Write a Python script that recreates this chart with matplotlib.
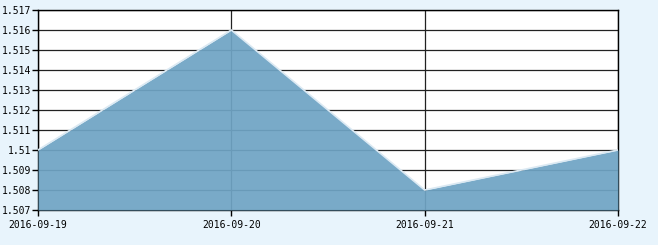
import matplotlib
matplotlib.use("Agg")
import matplotlib.pyplot as plt

# data
dates = ["2016-09-19", "2016-09-20", "2016-09-21", "2016-09-22"]
values = [1.510, 1.516, 1.508, 1.510]
y_ticks = [1.507, 1.508, 1.509, 1.510, 1.511, 1.512, 1.513, 1.514, 1.515, 1.516, 1.517]
y_labels = ["1.507", "1.508", "1.509", "1.51", "1.511", "1.512", "1.513",
            "1.514", "1.515", "1.516", "1.517"]

plt.rcParams["font.family"] = ["DejaVu Sans Mono"]

fig = plt.figure(figsize=(6.58, 2.45), dpi=100, facecolor="#e8f4fc")
ax = fig.add_axes([38 / 658, 35 / 245, 580 / 658, 200 / 245])
ax.set_facecolor("white")

x = list(range(len(dates)))
ax.set_axisbelow(True)
ax.grid(True, color="#222222", linewidth=0.9)
ax.fill_between(x, values, y_ticks[0], color="#6fa4c4", alpha=0.93, linewidth=0, zorder=3)
ax.plot(x, values, color="#dbe9f3", linewidth=1.2, zorder=4)

ax.set_xlim(0, len(dates) - 1)
ax.set_ylim(y_ticks[0], y_ticks[-1])
ax.set_xticks(x)
ax.set_xticklabels(dates)
ax.set_yticks(y_ticks)
ax.set_yticklabels(y_labels)
ax.tick_params(axis="both", labelsize=7, length=4, width=1, color="black")
ax.tick_params(axis="y", pad=1)
ax.tick_params(axis="x", pad=3)

for side in ["left", "bottom", "right", "top"]:
    ax.spines[side].set_color("black")
    ax.spines[side].set_linewidth(1)

fig.savefig("out.png", dpi=100, facecolor=fig.get_facecolor())
